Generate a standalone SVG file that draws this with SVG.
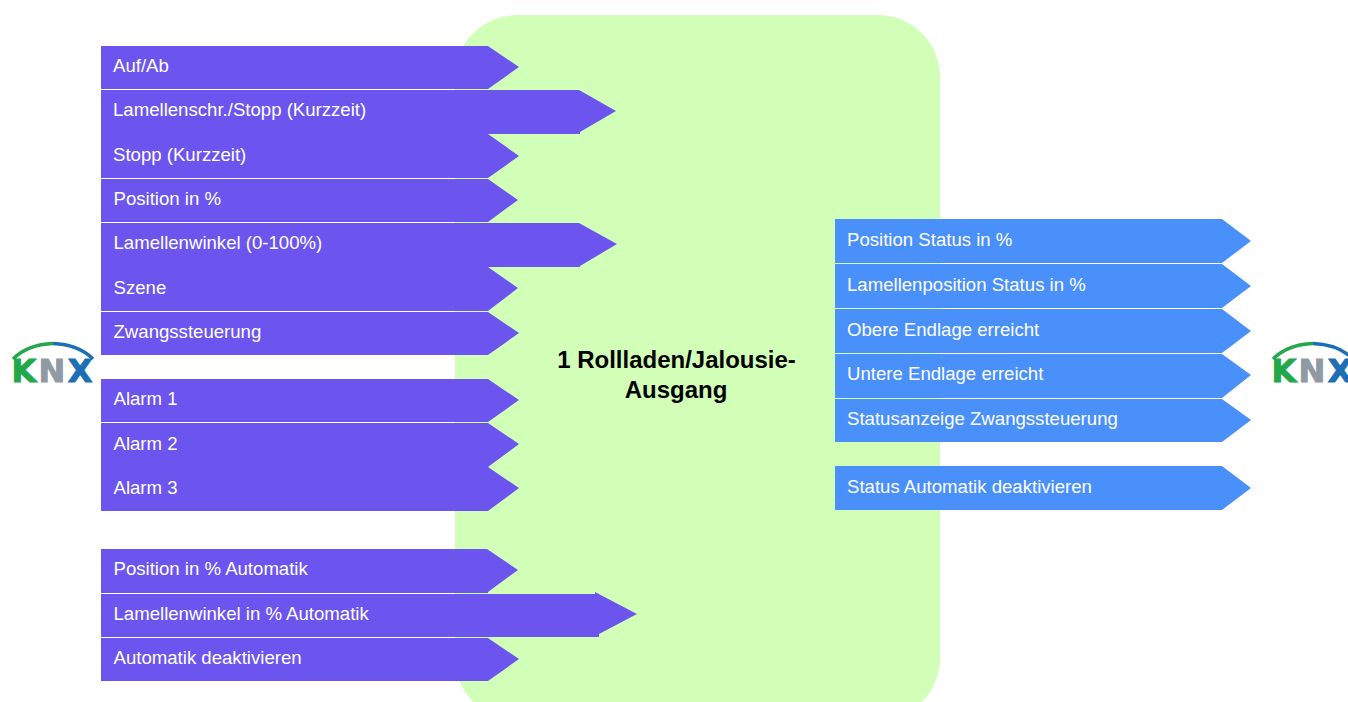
<svg xmlns="http://www.w3.org/2000/svg" width="1348" height="702" viewBox="0 0 1348 702">
<style>
text{font-family:"Liberation Sans",Arial,sans-serif}
.in{fill:#6c55ef}
.out{fill:#4a90fb}
.l{fill:#fff;font-size:18.600px}
.t{fill:#000;font-size:24px;font-weight:700;text-anchor:middle}
.k{font-family:"DejaVu Sans",sans-serif;font-size:32px;font-weight:700;text-anchor:middle;stroke-width:1}
</style>
<defs>
<g id="logo">
<path d="M13 359C23 349 38 344 53 343.500" fill="none" stroke="#22a84a" stroke-width="3.500"/>
<path d="M53 343.500C68 344 83 349 93 359" fill="none" stroke="#1c6fb5" stroke-width="3.500"/>
<text x="24" y="381.500" class="k" fill="#22a84a" stroke="#22a84a">K</text>
<text x="52" y="381.500" class="k" fill="#8f9aa3" stroke="#8f9aa3">N</text>
<text x="80" y="381.500" class="k" fill="#1c6fb5" stroke="#1c6fb5">X</text>
</g>
</defs>
<g id="main"><rect x="455" y="15" width="485" height="705" rx="62" fill="#d2ffb8"/>
<text x="676.500" y="368" class="t">1 Rollladen/Jalousie-</text><text x="676" y="398" class="t">Ausgang</text></g>
<g id="logo-left"><use href="#logo"/></g>
<g id="logo-right"><use href="#logo" x="1260"/></g>
<g id="connectors"/>
<g id="in1"><path class="in" d="M101 46H488L519 67L488 89H101Z"/><text class="l" x="113" y="72">Auf/Ab</text></g>
<g id="in3"><path class="in" d="M101 134H488L519 156L488 178H101Z"/><text class="l" x="113" y="161">Stopp (Kurzzeit)</text></g>
<g id="in2"><path class="in" d="M101 90H579L616 111L580 132V134H101Z"/><text class="l" x="113" y="116">Lamellenschr./Stopp (Kurzzeit)</text></g>
<g id="in4"><path class="in" d="M101 179H488L518 200L488 222H101Z"/><text class="l" x="113.500" y="205">Position in %</text></g>
<g id="in6"><path class="in" d="M101 267H488L518 288L488 311H101Z"/><text class="l" x="113.500" y="294">Szene</text></g>
<g id="in5"><path class="in" d="M101 223H579L617 244L580 266V267H101Z"/><text class="l" x="113.500" y="249">Lamellenwinkel (0-100%)</text></g>
<g id="in7"><path class="in" d="M101 312H488L519 333L488 355H101Z"/><text class="l" x="113.500" y="338">Zwangssteuerung</text></g>
<g id="in8"><path class="in" d="M101 379H488L519 400L488 422H101Z"/><text class="l" x="113.500" y="405">Alarm 1</text></g>
<g id="in9"><path class="in" d="M101 423H488L519 444L488 467H101Z"/><text class="l" x="113.500" y="450">Alarm 2</text></g>
<g id="in10"><path class="in" d="M101 467H488L519 488L488 511H101Z"/><text class="l" x="113.500" y="494">Alarm 3</text></g>
<g id="in11"><path class="in" d="M101 549H487L518 570L488 592V593H101Z"/><text class="l" x="113.500" y="575">Position in % Automatik</text></g>
<g id="in12"><path class="in" d="M101 594H595V592L637 614L599 634V637H101Z"/><text class="l" x="113.500" y="620">Lamellenwinkel in % Automatik</text></g>
<g id="in13"><path class="in" d="M101 638H488L519 659L488 681H101Z"/><text class="l" x="113.500" y="664">Automatik deaktivieren</text></g>
<g id="out1"><path class="out" d="M835 219H1222L1251 241L1222 263H835Z"/><text class="l" x="847" y="246">Position Status in %</text></g>
<g id="out2"><path class="out" d="M835 264H1222L1251 286L1222 308H835Z"/><text class="l" x="847" y="291">Lamellenposition Status in %</text></g>
<g id="out3"><path class="out" d="M835 309H1222L1251 331L1222 353H835Z"/><text class="l" x="847" y="336">Obere Endlage erreicht</text></g>
<g id="out4"><path class="out" d="M835 354H1222L1251 375L1222 398H835Z"/><text class="l" x="847" y="380">Untere Endlage erreicht</text></g>
<g id="out5"><path class="out" d="M835 399H1222L1251 420L1222 442H835Z"/><text class="l" x="847" y="425">Statusanzeige Zwangssteuerung</text></g>
<g id="out6"><path class="out" d="M835 466H1222L1251 488L1222 510H835Z"/><text class="l" x="847" y="493">Status Automatik deaktivieren</text></g>
</svg>
